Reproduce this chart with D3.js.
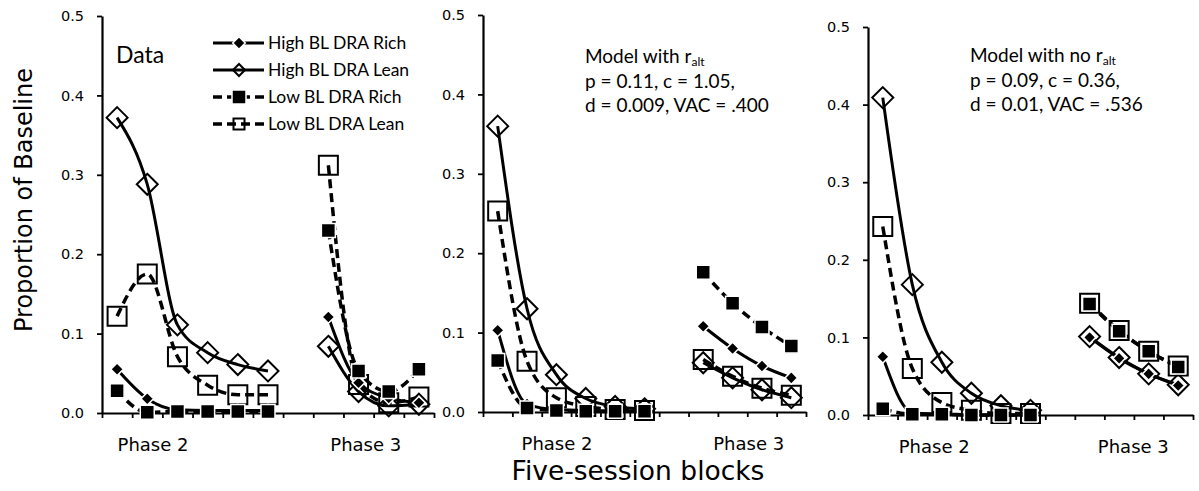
<!DOCTYPE html>
<html>
<head>
<meta charset="utf-8">
<script src="https://cdn.jsdelivr.net/npm/d3@7"></script>
<style>
  body { margin: 0; background: #fff; }
  svg { display: block; }
</style>
</head>
<body>
<svg id="chart" width="1199" height="491"></svg>
<script>
// ---- data ----
const seriesNames = ["High BL DRA Rich", "High BL DRA Lean", "Low BL DRA Rich", "Low BL DRA Lean"];
const phaseNames = ["Phase 2", "Phase 3"];
const phase2Slots = [0, 1, 2, 3, 4, 5];   // five-session blocks, phase 2
const phase3Slots = [7, 8, 9, 10];        // five-session blocks, phase 3
const yTicks = [0, 0.1, 0.2, 0.3, 0.4, 0.5];

// each series: 6 phase 2 blocks, then 4 phase 3 blocks
const dataHighRich = [0.055, 0.018, 0.004, 0.003, 0.003, 0.003, 0.121, 0.038, 0.019, 0.013];
const dataHighLean = [0.372, 0.288, 0.111, 0.076, 0.061, 0.053, 0.084, 0.027, 0.009, 0.011];
const dataLowRich  = [0.028, 0.001, 0.002, 0.002, 0.002, 0.002, 0.230, 0.053, 0.027, 0.055];
const dataLowLean  = [0.122, 0.175, 0.071, 0.035, 0.023, 0.023, 0.312, 0.036, 0.013, 0.020];

const altHighRich = [0.103, 0.010, 0.003, 0.002, 0.001, 0.001, 0.108, 0.080, 0.058, 0.043];
const altHighLean = [0.360, 0.130, 0.047, 0.017, 0.007, 0.004, 0.062, 0.043, 0.028, 0.018];
const altLowRich  = [0.065, 0.005, 0.002, 0.001, 0.001, 0.001, 0.176, 0.137, 0.107, 0.083];
const altLowLean  = [0.253, 0.064, 0.018, 0.007, 0.003, 0.002, 0.066, 0.045, 0.030, 0.021];

const noAltHighRich = [0.075, 0.003, 0.001, 0.000, 0.000, 0.000, 0.100, 0.073, 0.053, 0.038];
const noAltHighLean = [0.409, 0.168, 0.068, 0.028, 0.012, 0.006, 0.101, 0.074, 0.053, 0.039];
const noAltLowRich  = [0.008, 0.001, 0.001, 0.000, 0.000, 0.000, 0.143, 0.108, 0.082, 0.062];
const noAltLowLean  = [0.243, 0.060, 0.016, 0.006, 0.002, 0.002, 0.144, 0.109, 0.082, 0.063];

const annotAlt = ["p = 0.11, c = 1.05,", "d = 0.009, VAC = .400"];
const annotNoAlt = ["p = 0.09, c = 0.36,", "d = 0.01, VAC = .536"];

// ---- layout / styles ----
const tickFont = "DejaVu Sans, Verdana, sans-serif";
const textFont = "Lato, 'Open Sans', sans-serif";

const panels = [
  {left: 102, right: 434, top: 16, bottom: 413, phaseAt: [1.69, 8.74],
   series: [dataHighRich, dataHighLean, dataLowRich, dataLowLean]},
  {left: 483, right: 806, top: 15, bottom: 412, phaseAt: [2.52, 9.05],
   series: [altHighRich, altHighLean, altLowRich, altLowLean]},
  {left: 868, right: 1193, top: 27, bottom: 415, phaseAt: [2.24, 8.98],
   series: [noAltHighRich, noAltHighLean, noAltLowRich, noAltLowLean]}
];

// index into seriesNames
let styles = [
  {shape: "diamond", filled: true,  r: 6.3,  lw: 3,   dash: null,  lr: 6.3},
  {shape: "diamond", filled: false, r: 10.5, lw: 3,   dash: null,  lr: 6},
  {shape: "square",  filled: true,  r: 7,    lw: 3.5, dash: "9,5", lr: 7},
  {shape: "square",  filled: false, r: 9.5,  lw: 3.5, dash: "9,5", lr: 5.5}
];
let drawOrder = [1, 3, 0, 2];

function markerPath(shape, r){
  if(shape == "diamond"){
    return `M0,${-r}L${r},0L0,${r}L${-r},0Z`;
  }
  return `M${-r},${-r}h${2*r}v${2*r}h${-2*r}Z`;
}

function styleMarker(sel, st, r){
  sel.attr("d", markerPath(st.shape, r))
    .attr("fill", st.filled ? "#000" : "none")
    .attr("stroke", st.filled ? "#fff" : "#000")
    .attr("stroke-width", st.filled ? 1.5 : 2);
}

let svg = d3.select("#chart");

panels.forEach((p) => {
  let x = d3.scaleLinear().domain([0, 11]).range([p.left, p.right]);
  let y = d3.scaleLinear().domain([0, 0.5]).range([p.bottom, p.top]);
  let g = svg.append("g");

  // axes
  let yAxis = g.append("g")
    .attr("transform", `translate(${p.left},0)`)
    .call(d3.axisLeft(y).tickValues(yTicks).tickFormat(d3.format(".1f")).tickSizeInner(5).tickSizeOuter(0).tickPadding(13));
  let xAxis = g.append("g")
    .attr("transform", `translate(0,${p.bottom})`)
    .call(d3.axisBottom(x).tickValues(d3.range(12)).tickFormat("").tickSizeInner(5).tickSizeOuter(0));
  [yAxis, xAxis].forEach(a => {
    a.select(".domain").attr("stroke-width", 2.2);
    a.selectAll(".tick line").attr("stroke-width", 1.8);
    a.selectAll("text").attr("font-family", tickFont).attr("font-size", 14.5).attr("fill", "#000");
  });

  // phase labels
  g.selectAll("text.phase")
    .data(phaseNames)
    .join("text")
    .attr("class", "phase")
    .attr("x", (d, i) => x(p.phaseAt[i]))
    .attr("y", p.bottom + 38)
    .attr("text-anchor", "middle")
    .attr("font-family", tickFont)
    .attr("font-size", 18)
    .text(d => d);

  let line = d3.line()
    .x(d => x(d[0] + 0.5))
    .y(d => y(d[1]))
    .curve(d3.curveMonotoneX);

  drawOrder.forEach((si) => {
    let st = styles[si];
    let vals = p.series[si];
    let pts = vals.map((v, i) => [i < 6 ? phase2Slots[i] : phase3Slots[i - 6], v]);
    let segs = [pts.slice(0, 6), pts.slice(6)];
    g.append("g").selectAll("path")
      .data(segs)
      .join("path")
      .attr("d", line)
      .attr("fill", "none")
      .attr("stroke", "#000")
      .attr("stroke-width", st.lw)
      .attr("stroke-dasharray", st.dash);
    g.append("g").selectAll("path")
      .data(pts)
      .join("path")
      .attr("transform", d => `translate(${x(d[0] + 0.5)},${y(d[1])})`)
      .call(s => styleMarker(s, st, st.r));
  });
});

// legend (inside the first panel)
let legend = svg.append("g")
  .selectAll("g")
  .data(seriesNames)
  .join("g")
  .attr("transform", (d, i) => `translate(213,${43 + i * 27})`);
legend.append("line")
  .attr("x1", 0).attr("x2", 51)
  .attr("stroke", "#000")
  .attr("stroke-width", (d, i) => styles[i].lw)
  .attr("stroke-dasharray", (d, i) => styles[i].dash);
legend.append("path")
  .attr("transform", "translate(26,0)")
  .each(function(d, i){ d3.select(this).call(s => styleMarker(s, styles[i], styles[i].lr)); });
legend.append("text")
  .attr("x", 55)
  .attr("dy", "0.35em")
  .attr("font-family", textFont)
  .attr("font-size", 17.5)
  .text(d => d);

// panel annotations
svg.append("text")
  .attr("x", 116).attr("y", 63)
  .attr("font-family", textFont).attr("font-size", 23)
  .text("Data");

// one text block per model: title with subscript, then two parameter lines
function annotate(x0, y0, head, lines){
  let t = svg.append("text")
    .attr("font-family", textFont).attr("font-size", 19)
    .attr("x", x0).attr("y", y0);
  t.append("tspan").text(head);
  t.append("tspan").attr("font-size", 12).attr("dy", 3).text("alt");
  lines.forEach((l, i) => {
    t.append("tspan")
      .attr("x", x0).attr("y", y0 + 25 + 24 * i)
      .text(l);
  });
}
annotate(585, 63, "Model with r", annotAlt);
annotate(970, 62, "Model with no r", annotNoAlt);

// axis titles
svg.append("text")
  .attr("transform", "translate(32,200) rotate(-90)")
  .attr("text-anchor", "middle")
  .attr("font-family", tickFont).attr("font-size", 24)
  .text("Proportion of Baseline");
svg.append("text")
  .attr("x", 638).attr("y", 480)
  .attr("text-anchor", "middle")
  .attr("font-family", tickFont).attr("font-size", 26.5)
  .text("Five-session blocks");
</script>
</body>
</html>
